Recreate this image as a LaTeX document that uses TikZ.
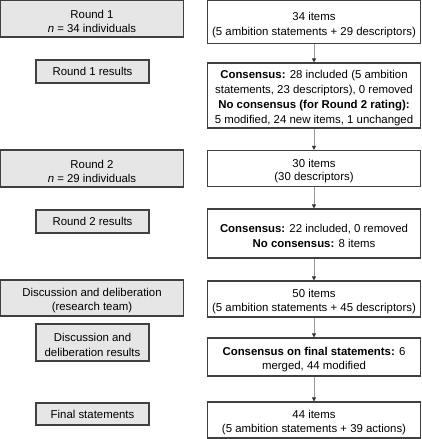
\documentclass[tikz,border=0pt]{standalone}
\usepackage{fontspec}
\setmainfont{Liberation Sans}
\usetikzlibrary{arrows.meta}
\definecolor{boxfill}{HTML}{E6E6E6}
\definecolor{edge}{HTML}{404040}
\newcommand{\tp}{\rule{0pt}{13.5pt}}
\begin{document}
\begin{tikzpicture}[x=1pt,y=-1pt,
  every node/.style={font=\fontsize{11.4}{14}\selectfont, align=center, inner sep=0pt},
  wide/.style={font=\fontsize{11.4}{15}\selectfont},
  tight/.style={font=\fontsize{11.4}{13}\selectfont},
  leftbox/.style={draw=edge, fill=boxfill, line width=1.1pt},
  rightbox/.style={draw=edge, fill=white, line width=1.1pt},
  flow/.style={draw=gray!80, line width=0.8pt, -{Triangle[length=4pt,width=4pt,fill=black!80,color=black!80]}}]
\useasboundingbox (0,0) rectangle (422,439);
% left boxes
\node[leftbox, minimum width=183pt, minimum height=37pt] (L1) at (92,18.5) {\tp Round 1\\ \textit{n} = 34 individuals};
\node[leftbox, minimum width=113pt, minimum height=23pt] (L2) at (92.5,71.5) {Round 1 results};
\node[leftbox, minimum width=183pt, minimum height=37pt] (L3) at (92,168.5) {\tp Round 2\\ \textit{n} = 29 individuals};
\node[leftbox, minimum width=113pt, minimum height=23pt] (L4) at (92.5,221.5) {Round 2 results};
\node[leftbox, minimum width=183pt, minimum height=36pt] (L5) at (92,298) {\tp Discussion and deliberation\\ (research team)};
\node[leftbox, wide, minimum width=113pt, minimum height=37pt] (L6) at (92.5,342.5) {\tp Discussion and\\ deliberation results};
\node[leftbox, minimum width=113pt, minimum height=22pt] (L7) at (92.5,414) {Final statements};
% right boxes
\node[rightbox, wide, minimum width=213pt, minimum height=43pt] (R1) at (314,22) {\tp 34 items\\ (5 ambition statements + 29 descriptors)};
\node[rightbox, wide, minimum width=213pt, minimum height=65pt] (R2) at (314,95.5) {\tp\textbf{Consensus:} 28 included (5 ambition\\ statements, 23 descriptors), 0 removed\\ \textbf{No consensus (for Round 2 rating):}\\ 5 modified, 24 new items, 1 unchanged};
\node[rightbox, tight, minimum width=213pt, minimum height=36pt] (R3) at (314,168.5) {\tp 30 items\\ (30 descriptors)};
\node[rightbox, wide, minimum width=213pt, minimum height=49pt] (R4) at (314,233.5) {\tp\textbf{Consensus:} 22 included, 0 removed\\ \textbf{No consensus:} 8 items};
\node[rightbox, minimum width=213pt, minimum height=36pt] (R5) at (314,299) {\tp 50 items\\ (5 ambition statements + 45 descriptors)};
\node[rightbox, minimum width=213pt, minimum height=38pt] (R6) at (314,357) {\tp\textbf{Consensus on final statements:} 6\\ merged, 44 modified};
\node[rightbox, minimum width=213pt, minimum height=36pt] (R7) at (314,420) {\tp 44 items\\ (5 ambition statements + 39 actions)};
% arrows
\draw[flow] (R1) -- (R2);
\draw[flow] (R2) -- (R3);
\draw[flow] (R3) -- (R4);
\draw[flow] (R4) -- (R5);
\draw[flow] (R5) -- (R6);
\draw[flow] (R6) -- (R7);
\end{tikzpicture}
\end{document}
